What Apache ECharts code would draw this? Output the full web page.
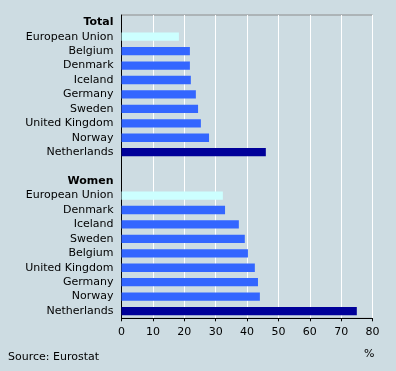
<!DOCTYPE html>
<html><head><meta charset="utf-8">
<script src="https://cdn.jsdelivr.net/npm/echarts@6/dist/echarts.min.js"></script>
<style>html,body{margin:0;padding:0;background:#cddce2;}#c{width:396px;height:371px;}</style>
</head><body><div id="c"></div>
<script>
const totalCountries = ["European Union","Belgium","Denmark","Iceland","Germany","Sweden","United Kingdom","Norway","Netherlands"];
const totalValues = [18.3,21.8,21.8,22.1,23.7,24.4,25.3,27.9,46.0];
const womenCountries = ["European Union","Denmark","Iceland","Sweden","Belgium","United Kingdom","Germany","Norway","Netherlands"];
const womenValues = [32.3,33.0,37.4,39.3,40.3,42.5,43.5,44.1,75.0];
const groupTitles = ["Total","Women"];
const xTicks = [0,10,20,30,40,50,60,70,80];

function colorFor(name){
  if(name==="European Union") return "#ccffff";
  if(name==="Netherlands") return "#000099";
  return "#3366ff";
}
const cats = [], data = [];
cats.push(groupTitles[0]); data.push('-');
totalCountries.forEach((c,i)=>{cats.push(c); data.push({value: totalValues[i], itemStyle:{color: colorFor(c)}});});
cats.push(' '); data.push('-');
cats.push(groupTitles[1]); data.push('-');
womenCountries.forEach((c,i)=>{cats.push(c + '\u200b'); data.push({value: womenValues[i], itemStyle:{color: colorFor(c)}});});

const chart = echarts.init(document.getElementById('c'), null, {renderer:'canvas'});
const font = "DejaVu Sans";
chart.setOption({
  backgroundColor: '#cddce2',
  animation: false,
  textStyle: {fontFamily: font},
  grid: {left: 121.5, right: 23.5, top: 15, bottom: 52.7, show: true, borderColor: '#8c8c8c', borderWidth: 1, backgroundColor: 'transparent'},
  xAxis: {
    type: 'value', min: xTicks[0], max: xTicks[xTicks.length-1], interval: xTicks[1]-xTicks[0],
    axisLine: {show: true, lineStyle: {color: '#000', width: 1}},
    axisTick: {show: true, length: 3, lineStyle: {color: '#000'}},
    axisLabel: {color: '#000', fontSize: 11, fontFamily: font, margin: 8},
    splitLine: {show: true, lineStyle: {color: '#ffffff', width: 1}}
  },
  yAxis: {
    type: 'category', inverse: true, data: cats,
    axisLine: {show: true, onZero: false, lineStyle: {color: '#000', width: 1}},
    axisTick: {show: false},
    splitLine: {show: false},
    axisLabel: {
      color: '#000', fontSize: 11, fontFamily: font, margin: 8, interval: 0,
      formatter: function(v){ v = v.replace(/\u200b/g,''); return groupTitles.indexOf(v) >= 0 ? '{b|'+v+'}' : v; },
      rich: {b: {fontWeight: 'bold', fontSize: 11, fontFamily: font, color: '#000'}}
    }
  },
  series: [{
    type: 'bar', data: data, barWidth: 8.3, silent: true
  }],
  graphic: [
    {type: 'text', left: 8, top: 352, style: {text: 'Source: Eurostat', font: '11px "DejaVu Sans"', fill: '#000'}},
    {type: 'text', left: 364, top: 349, style: {text: '%', font: '11px "DejaVu Sans"', fill: '#000'}}
  ]
});
</script></body></html>
